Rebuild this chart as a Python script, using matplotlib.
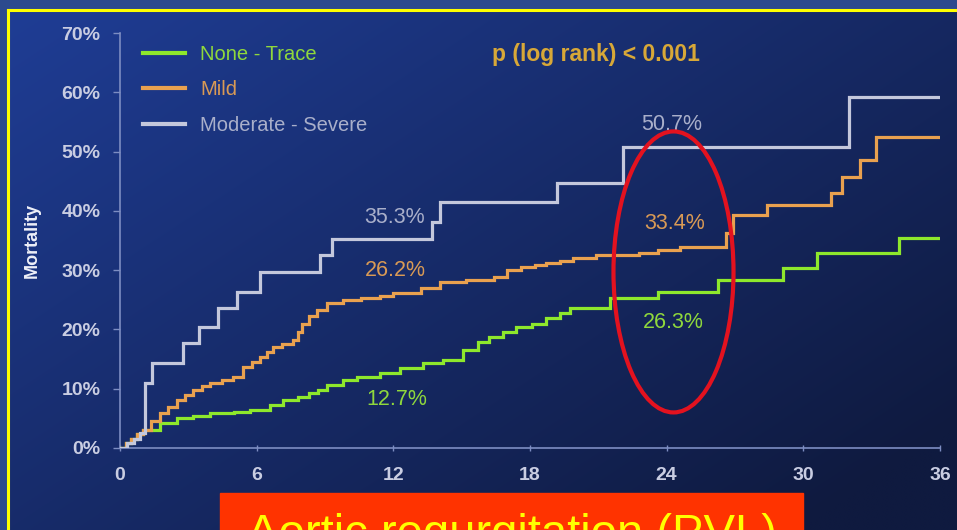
import matplotlib
matplotlib.use("Agg")
import matplotlib.pyplot as plt
import numpy as np
from matplotlib.patches import Ellipse, Rectangle
from matplotlib.colors import to_rgb

plt.rcParams["font.family"] = ["Liberation Sans", "DejaVu Sans"]

# Kaplan-Meier style cumulative mortality (months, %)
t_none = [0, 0.25, 0.5, 0.75, 1.0, 1.76, 2.5, 3.2, 3.95, 5.0, 5.7, 6.6, 7.15,
          7.8, 8.3, 8.7, 9.1, 9.8, 10.4, 11.4, 12.3, 13.3, 14.2, 15.05, 15.7,
          16.2, 16.8, 17.4, 18.1, 18.7, 19.3, 19.75, 21.5, 23.6, 26.25, 29.1,
          30.6, 34.2, 36]
v_none = [0, 0.8, 1.5, 2.3, 3.0, 4.2, 5.0, 5.4, 5.9, 6.1, 6.4, 7.3, 8.1,
          8.6, 9.2, 9.8, 10.6, 11.5, 12.0, 12.7, 13.5, 14.3, 14.8, 16.5, 17.9,
          18.7, 19.6, 20.4, 21.0, 21.9, 22.8, 23.6, 25.3, 26.3, 28.3, 30.4,
          32.9, 35.4, 35.4]

t_mild = [0, 0.25, 0.5, 0.75, 1.0, 1.35, 1.76, 2.1, 2.5, 2.85, 3.2, 3.6, 3.95,
          4.5, 4.96, 5.4, 5.8, 6.15, 6.45, 6.7, 7.1, 7.6, 7.8, 8.0, 8.3, 8.65,
          9.1, 9.8, 10.6, 11.4, 12.0, 13.2, 14.05, 15.2, 16.4, 17.0, 17.6,
          18.2, 18.7, 19.3, 19.9, 20.9, 22.8, 23.6, 24.6, 26.6, 26.9, 28.4,
          31.2, 31.7, 32.5, 33.2, 36]
v_mild = [0, 0.8, 1.5, 2.3, 3.0, 4.5, 5.9, 7.0, 8.1, 9.0, 9.8, 10.4, 11.0,
          11.5, 12.0, 13.7, 14.5, 15.3, 16.2, 17.0, 17.6, 18.2, 19.5, 21.0,
          22.2, 23.3, 24.4, 25.0, 25.3, 25.6, 26.2, 27.0, 28.0, 28.4, 28.8,
          30.0, 30.5, 30.8, 31.2, 31.6, 32.0, 32.5, 32.9, 33.4, 33.9, 36.2,
          39.3, 41.0, 43.0, 45.7, 48.6, 52.4, 52.4]

t_mod = [0, 0.3, 0.6, 0.9, 1.1, 1.4, 2.77, 3.47, 4.3, 5.14, 6.15, 8.78, 9.3,
         13.7, 14.05, 19.2, 22.1, 32.0, 36]
v_mod = [0, 0.8, 1.6, 2.5, 11.0, 14.3, 17.7, 20.4, 23.6, 26.3, 29.7, 32.5,
         35.3, 38.1, 41.5, 44.7, 50.7, 59.2, 59.2]

groups = ["None - Trace", "Mild", "Moderate - Severe"]
line_colors = ["#8ee82c", "#e9a14f", "#c4c8dc"]
text_colors = ["#8fd83c", "#d99a55", "#a9afca"]

# point estimates at 12 and 24 months
marks = [(12, 35.3, 2), (12, 26.2, 1), (12, 12.7, 0),
         (24, 50.7, 2), (24, 33.4, 1), (24, 26.3, 0)]
mark_pos = [(12.07, 38.8), (12.07, 30.0), (12.15, 8.1),
            (24.2, 54.6), (24.36, 37.8), (24.28, 21.2)]

W, H = 957, 530
fig = plt.figure(figsize=(W / 100, H / 100), dpi=100)
fig.patch.set_facecolor("#2c4a8e")

# slide panel with diagonal gradient and yellow border
bg = fig.add_axes([7 / W, 0, 1 - 7 / W, 1 - 10 / H])
bg.set_axis_off()
gx, gy = np.meshgrid(np.linspace(0, 1, 300), np.linspace(0, 1, 200))
g = np.clip(0.6 * gx + 0.5 * gy, 0, 1)[..., None]
c0 = np.array(to_rgb("#1f3d95"))
c1 = np.array(to_rgb("#0f1a3f"))
bg.imshow(c0 * (1 - g) + c1 * g, aspect="auto", extent=[0, 1, 0, 1],
          origin="upper", interpolation="bilinear")
bg.set_xlim(0, 1)
bg.set_ylim(0, 1)
fig.add_artist(plt.Line2D([8 / W, 8 / W], [0, 1 - 10 / H], color="#ffff00",
                          lw=2.2, transform=fig.transFigure))
fig.add_artist(plt.Line2D([8 / W, 1], [1 - 10 / H, 1 - 10 / H], color="#ffff00",
                          lw=2.2, transform=fig.transFigure))

ax = fig.add_axes([120 / W, 1 - 448 / H, 820 / W, 415 / H])
ax.set_facecolor("none")
series = [(t_none, v_none), (t_mild, v_mild), (t_mod, v_mod)]
for (t, v), name, c in zip(series, groups, line_colors):
    ax.step(t, v, where="post", color=c, lw=2.3, label=name,
            solid_joinstyle="miter", zorder=3)

for (mt, mv, gi), (px, py) in zip(marks, mark_pos):
    ax.text(px, py, f"{mv}%", color=text_colors[gi], fontsize=15.5,
            ha="center", va="center", zorder=4)

ax.add_patch(Ellipse((24.3, 29.7), 5.27, 47.4, fill=False,
                     edgecolor="#e3121f", lw=3, zorder=5))

ax.text(0.4537, 0.947, "p (log rank) < 0.001", transform=ax.transAxes,
        color="#d8a838", fontsize=16.5, fontweight="bold", va="center")

leg = ax.legend(loc="upper left", bbox_to_anchor=(0.028, 0.972),
                frameon=False, fontsize=14.5, handlelength=2.1,
                handletextpad=0.75, labelspacing=0.82, borderaxespad=0,
                borderpad=0, labelcolor=text_colors)
for h in leg.get_lines():
    h.set_linewidth(3)

ax.set_xlim(0, 36)
ax.set_ylim(0, 70)
ax.set_xticks(range(0, 37, 6))
ax.set_yticks(range(0, 71, 10))
ax.set_yticklabels([f"{v}%" for v in range(0, 71, 10)])
for s in ["top", "right"]:
    ax.spines[s].set_visible(False)
for s in ["left", "bottom"]:
    ax.spines[s].set_color("#7d8dc2")
    ax.spines[s].set_linewidth(1.2)
ax.tick_params(axis="y", colors="#7d8dc2", length=5, width=1, pad=9,
               labelcolor="#c9cde2", labelsize=14)
ax.tick_params(axis="x", colors="#7d8dc2", length=4, width=1, pad=12,
               direction="inout", labelcolor="#c9cde2", labelsize=14)
for lab in ax.get_xticklabels() + ax.get_yticklabels():
    lab.set_fontweight("bold")

fig.text(32 / W, 1 - 240 / H, "Mortality", rotation=90, color="#eef0f8",
         fontsize=13, fontweight="bold", ha="center", va="center")

# caption box along the bottom edge, text runs past the slide edge
fig.add_artist(Rectangle((220 / W, 0), 583 / W, 37 / H, color="#ff3300",
                         transform=fig.transFigure, zorder=10))
fig.text(247 / W, -17 / H, "Aortic regurgitation (PVL)", color="#ffff00",
         fontsize=34, va="baseline", ha="left", zorder=11)

fig.savefig("out.png", dpi=100, facecolor=fig.get_facecolor())
